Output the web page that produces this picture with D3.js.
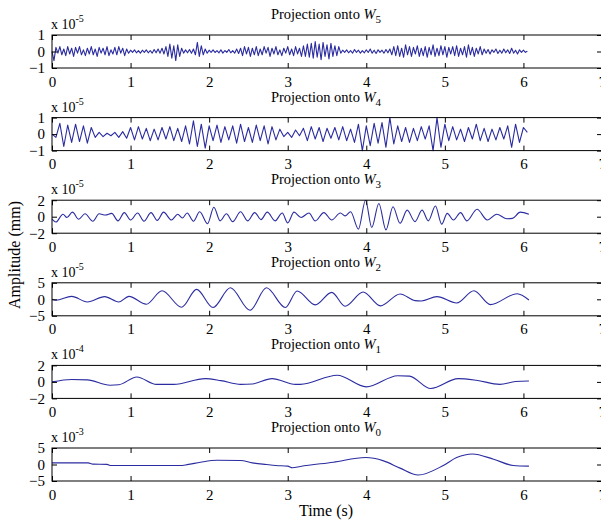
<!DOCTYPE html>
<html>
<head>
<meta charset="utf-8">
<script src="https://cdn.jsdelivr.net/npm/d3@7"></script>
<style>
  body { margin: 0; background: #fff; }
</style>
</head>
<body>
<script>
// panel order top -> bottom
const subscripts = ['5', '4', '3', '2', '1', '0'];
const exponents = ['-5', '-5', '-5', '-5', '-4', '-3'];
const yLimits = [1, 1, 2, 5, 2, 5];
const xTicks = [0, 1, 2, 3, 4, 5, 6, 7];

// uniformly sampled detail signals (scaled units)
const w5Step = 0.025;
const w5Values = [
  0, -0.55, 0.25, -0.1, 0.3, -0.2, 0.15, -0.25, 0.3, -0.15, 0.2, -0.3, 0.25, -0.1, 0.3, -0.2, 0.1, -0.25, 0.2, -0.15,
  0.3, -0.2, 0.15, -0.3, 0.25, -0.1, 0.2, -0.2, 0.3, -0.25, 0.1, -0.15, 0.25, -0.2, 0.3, -0.1, 0.2, -0.25, 0.15, -0.1,
  0.08, -0.05, 0.1, -0.08, 0.05, -0.1, 0.08, -0.05, 0.1, -0.08, 0.06, -0.1, 0.12, -0.08, 0.15, -0.1, 0.2, -0.15,
  0.3, -0.3, 0.45, -0.4, 0.35, -0.55, 0.4, -0.3, 0.2,
  -0.1, 0.1, -0.08, 0.12, -0.1, 0.15, -0.2,
  0.55, -0.3, 0.35, -0.2, 0.15,
  -0.1, 0.08, -0.05, 0.1, -0.06, 0.05, -0.08, 0.1, -0.1, 0.06, -0.05, 0.12, -0.08, 0.05, -0.1, 0.15, -0.12,
  0.2, -0.25, 0.3, -0.15, 0.25, -0.3, 0.2, -0.2, 0.3, -0.25, 0.15, -0.2, 0.3, -0.1, 0.25, -0.3,
  0.2, -0.15, 0.3, -0.2, 0.1, -0.25, 0.2, -0.1, 0.3, -0.2, 0.15, -0.25, 0.3, -0.15, 0.2, -0.3,
  0.35, -0.3, 0.45, -0.35, 0.5, -0.4, 0.6, -0.35, 0.45, -0.5, 0.55, -0.3, 0.4, -0.45, 0.5, -0.3, 0.35, -0.25, 0.3,
  -0.1, 0.08, -0.05, 0.1, -0.08, 0.06, -0.1, 0.12, -0.05, 0.08, -0.1, 0.05, -0.08, 0.1, -0.06, 0.15, -0.1, 0.08,
  -0.12, 0.1, -0.05, 0.08, -0.1, 0.12, -0.08, 0.15, -0.2,
  0.3, -0.25, 0.35, -0.3, 0.2, -0.35, 0.4, -0.2, 0.3, -0.3, 0.25, -0.15, 0.35, -0.3, 0.2, -0.25, 0.3, -0.35, 0.25, -0.2,
  0.4, -0.3, 0.2, -0.25, 0.35, -0.2, 0.3, -0.35, 0.25, -0.15, 0.3, -0.25, 0.35, -0.3, 0.2, -0.2, 0.3, -0.35, 0.4, -0.2,
  0.25, -0.3, 0.2, -0.15, 0.3, -0.2,
  0.15, -0.1, 0.12, -0.15, 0.1, -0.05, 0.15, -0.12, 0.08, -0.1, 0.15, -0.08, 0.1, -0.12, 0.2, -0.1, 0.08, -0.15,
  0.1, -0.05, 0.08, -0.05, 0.02
];

const w4Step = 0.05;
const w4Values = [
  0, -0.2,
  0.65, -0.75, 0.55, -0.5, 0.6, -0.45, 0.5, -0.55, 0.4,
  -0.2, 0.1, -0.15, 0.05, -0.1, 0.1, -0.2, 0.15, -0.25,
  0.4, -0.35, 0.45, -0.3, 0.35, -0.4, 0.3, -0.35, 0.4, -0.3, 0.45, -0.4, 0.35, -0.45, 0.5,
  -0.6, 0.8, -0.75, 0.6, -0.85,
  0.5, -0.4, 0.55, -0.5, 0.45, -0.35, 0.5, -0.55, 0.6, -0.45, 0.4, -0.5, 0.55, -0.4, 0.5, -0.6, 0.45, -0.35, 0.3,
  -0.15, 0.1, -0.2, 0.25, -0.1, 0.35,
  -0.4, 0.45, -0.3, 0.4, -0.45, 0.35, -0.25, 0.4, -0.35, 0.45, -0.4, 0.3, -0.5,
  0.6, -1.0, 0.5, -0.7, 0.65, -0.55, 0.7, -0.8, 1.0, -0.6, 0.5,
  -0.45, 0.4, -0.5, 0.35, -0.4, 0.45, -0.3, 0.5,
  -1.0, 1.0, -0.8, 0.6,
  -0.4, 0.45, -0.35, 0.3, -0.45, 0.4, -0.3, 0.6, -0.4, 0.35, -0.45, 0.3, -0.35, 0.4, -0.3,
  0.5, -0.8, 0.6, -0.5, 0.4, 0.1
];

// smoother signals as [time (s), value] turning points
const w3Points = [
  [0, -0.3], [0.05, -0.65], [0.14, 0.3], [0.19, -0.1], [0.26, 0.55], [0.34, -0.3], [0.42, 0.35], [0.52, -0.55],
  [0.6, 0.35], [0.68, 0.2], [0.76, 0.4], [0.84, -0.5], [0.92, 0.5], [1.0, -0.4], [1.09, 0.45], [1.17, -0.55],
  [1.26, 0.5], [1.34, -0.45], [1.42, 0.55], [1.52, -0.4], [1.6, 0.3], [1.66, -0.15], [1.72, 0.45], [1.8, -0.55],
  [1.88, 0.6], [1.98, -0.85], [2.06, 1.15], [2.14, -0.5], [2.22, 0.35], [2.3, -0.6], [2.4, 0.6], [2.49, -0.5],
  [2.58, 0.5], [2.66, -0.35], [2.74, 0.55], [2.84, -0.5], [2.93, 0.45], [3.0, -0.75], [3.08, 0.55], [3.17, -0.1],
  [3.27, 0.45], [3.35, -0.5], [3.46, 0.5], [3.56, -0.4], [3.67, 0.45], [3.73, 0.1], [3.8, 0.6], [3.9, -1.5],
  [3.99, 2.0], [4.07, -1.3], [4.16, 1.6], [4.25, -1.6], [4.34, 1.2], [4.43, -0.8], [4.52, 0.8], [4.62, -0.6],
  [4.71, 0.8], [4.79, -0.5], [4.88, 1.3], [4.96, -0.9], [5.03, 0.4], [5.11, -0.4], [5.2, 0.5], [5.28, -0.5],
  [5.41, 0.9], [5.54, -0.4], [5.66, 0.3], [5.79, -0.25], [5.86, -0.2], [5.96, 0.55], [6.07, 0.3]
];
const w2Points = [
  [0, 0], [0.05, -0.3], [0.25, 0.9], [0.45, -0.8], [0.67, 0.8], [0.85, -0.8], [0.98, 0.9], [1.2, -1.5],
  [1.4, 2.6], [1.65, -2.4], [1.84, 3.0], [2.05, -2.5], [2.27, 3.5], [2.52, -3.3], [2.73, 3.5], [2.97, -2.5],
  [3.12, 2.5], [3.35, -1.7], [3.56, 2.1], [3.73, -2.1], [3.96, 2.2], [4.18, -2.0], [4.43, 1.6], [4.62, -0.4],
  [4.7, -0.5], [4.9, 0.8], [5.15, -1.1], [5.37, 2.6], [5.58, -1.6], [5.92, 1.7], [6.07, -0.2]
];
const w1Points = [
  [0, 0], [0.25, 0.3], [0.45, 0.25], [0.74, -0.4], [0.85, -0.35], [1.08, 0.6], [1.33, -0.3], [1.55, -0.3],
  [1.95, 0.4], [2.15, 0.15], [2.4, -0.3], [2.55, -0.25], [2.8, 0.4], [3.1, -0.3], [3.16, -0.3], [3.63, 0.8],
  [4.0, -0.6], [4.4, 0.75], [4.55, 0.7], [4.82, -0.8], [5.17, 0.4], [5.4, 0.2], [5.7, -0.3], [5.9, 0.05],
  [6.07, 0.1]
];
const w0Points = [
  [0, 0.5], [0.46, 0.5], [0.52, 0.1], [0.7, 0.05], [0.75, -0.3], [1.63, -0.3], [1.72, -0.05], [1.89, 0.7],
  [2.1, 1.3], [2.4, 1.2], [2.55, 0.5], [2.73, 0.0], [2.85, -0.3], [3.0, -0.5], [3.06, -1.0], [3.16, -0.6],
  [3.58, 0.7], [3.99, 2.1], [4.22, 1.1], [4.43, -1.1], [4.66, -3.2], [4.98, -0.3], [5.15, 2.1], [5.35, 3.2],
  [5.62, 1.6], [5.87, -0.3], [6.07, -0.5]
];

const W = 601, H = 523;
const left = 52, right = 602, panelH = 33, firstTop = 35, pitch = 82.6;
const lineColor = '#2b2ca0';
const serif = '"Liberation Serif", "Times New Roman", serif';

const series = [
  w5Values.map((v, i) => [i * w5Step, v]),
  w4Values.map((v, i) => [i * w4Step, v]),
  w3Points, w2Points, w1Points, w0Points
];
const curves = [d3.curveLinear, d3.curveLinear, d3.curveMonotoneX, d3.curveMonotoneX, d3.curveMonotoneX, d3.curveMonotoneX];

const svg = d3.select('body').append('svg')
  .attr('width', W).attr('height', H)
  .attr('viewBox', `0 0 ${W} ${H}`);
svg.append('rect').attr('width', W).attr('height', H).attr('fill', '#fff');

const x = d3.scaleLinear().domain([0, 7]).range([left, right]);
const fmt = d3.format('d');

series.forEach((data, i) => {
  const top = firstTop + i * pitch;
  const lim = yLimits[i];
  const y = d3.scaleLinear().domain([-lim, lim]).range([top + panelH, top]);
  const g = svg.append('g');

  // signal
  g.append('path')
    .datum(data)
    .attr('fill', 'none')
    .attr('stroke', lineColor)
    .attr('stroke-width', 1.1)
    .attr('stroke-linejoin', 'round')
    .attr('d', d3.line().x(d => x(d[0])).y(d => y(d[1])).curve(curves[i]));

  // box
  g.append('rect')
    .attr('x', left).attr('y', top)
    .attr('width', right - left).attr('height', panelH)
    .attr('fill', 'none').attr('stroke', '#000').attr('stroke-width', 1);

  // inward ticks, bottom with labels, top without
  const ga = g.append('g').attr('transform', `translate(0,${top + panelH})`)
    .call(d3.axisBottom(x).tickValues(xTicks).tickFormat(fmt).tickSizeInner(-5).tickSizeOuter(0).tickPadding(8));
  ga.select('.domain').remove();
  ga.selectAll('text').style('font-size', '15px');
  const gt = g.append('g').attr('transform', `translate(0,${top})`)
    .call(d3.axisTop(x).tickValues(xTicks).tickSizeInner(-5).tickSizeOuter(0).tickFormat(''));
  gt.select('.domain').remove();

  const yTicks = [-lim, 0, lim];
  const gl = g.append('g').attr('transform', `translate(${left},0)`)
    .call(d3.axisLeft(y).tickValues(yTicks).tickFormat(fmt).tickSizeInner(-5).tickSizeOuter(0).tickPadding(7));
  gl.select('.domain').remove();
  gl.selectAll('text').style('font-size', '15px');
  const gr = g.append('g').attr('transform', `translate(${right},0)`)
    .call(d3.axisRight(y).tickValues(yTicks).tickSizeInner(-5).tickSizeOuter(0).tickFormat(''));
  gr.select('.domain').remove();

  // scale factor label
  const sf = g.append('text').attr('x', left - 1).attr('y', top - 6).style('font-size', '14px');
  sf.append('tspan').text('x 10');
  sf.append('tspan').attr('dy', -7).style('font-size', '10px').text(exponents[i]);

  // title
  const t = g.append('text').attr('x', 326).attr('y', top - 16)
    .attr('text-anchor', 'middle').style('font-size', '14.5px');
  t.append('tspan').text('Projection onto ');
  t.append('tspan').style('font-style', 'italic').text('W');
  t.append('tspan').attr('dy', 4).style('font-size', '11px').text(subscripts[i]);
});

svg.append('text')
  .attr('transform', `translate(20,255) rotate(-90)`)
  .attr('text-anchor', 'middle').style('font-size', '16px')
  .text('Amplitude (mm)');

svg.append('text')
  .attr('x', 326).attr('y', 516)
  .attr('text-anchor', 'middle').style('font-size', '16px')
  .text('Time (s)');

svg.selectAll('text').style('font-family', serif).attr('fill', '#000');
</script>
</body>
</html>
